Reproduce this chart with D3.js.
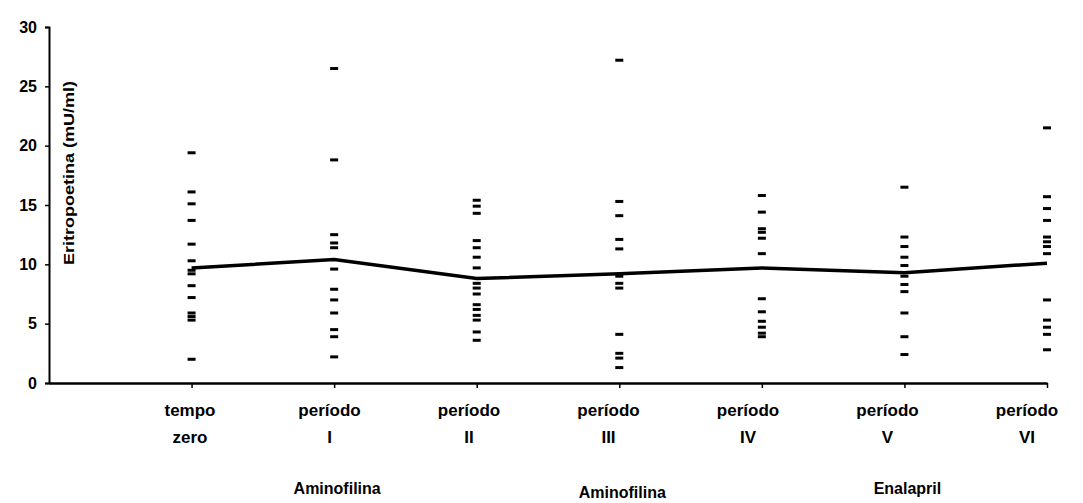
<!DOCTYPE html>
<html><head><meta charset="utf-8">
<script src="https://cdn.jsdelivr.net/npm/d3@7"></script>
<style>
html,body{margin:0;padding:0;background:#fff;}
svg{display:block;}
text{font-family:"Liberation Sans",Arial,sans-serif;font-weight:bold;fill:#000;}
</style></head>
<body><svg id="c" width="1083" height="503"></svg>
<script>
const categories = [["tempo","zero"],["período","I"],["período","II"],["período","III"],["período","IV"],["período","V"],["período","VI"]];
const groupLabels = [{idx:1,text:"Aminofilina",dy:0},{idx:3,text:"Aminofilina",dy:4},{idx:5,text:"Enalapril",dy:0}];
const yTicks = [0,5,10,15,20,25,30];
const yTickLabels = ["0","5","10","15","20","25","30"];
const tempoZero = [19.4,16.1,15.1,13.7,11.7,10.3,9.5,9.2,8.2,7.2,5.9,5.6,5.3,2.0];
const periodoI  = [26.5,18.8,12.5,11.8,11.4,9.6,7.9,7.0,5.9,4.5,3.9,2.2];
const periodoII = [15.4,14.9,14.3,12.0,11.4,10.6,9.7,8.4,8.0,7.5,6.6,6.2,5.7,5.3,4.3,3.6];
const periodoIII= [27.2,15.3,14.1,12.1,11.3,9.0,8.4,8.0,4.1,2.5,2.1,1.3];
const periodoIV = [15.8,14.4,13.0,12.7,12.2,10.9,7.1,6.0,5.2,4.7,4.2,3.9];
const periodoV  = [16.5,12.3,11.5,10.6,9.9,9.0,8.3,7.7,5.9,3.9,2.4];
const periodoVI = [21.5,15.7,14.7,13.7,12.3,11.9,11.5,10.9,7.0,5.3,4.7,4.1,2.8];
const means = [9.7,10.4,8.8,9.2,9.7,9.3,10.1];
const series = [tempoZero,periodoI,periodoII,periodoIII,periodoIV,periodoV,periodoVI];

const svg = d3.select("#c");
const x = d3.scaleLinear().domain([-1,6]).range([49,1047]);
const xLab = d3.scaleLinear().domain([0,6]).range([190,1027]);
const y = d3.scaleLinear().domain([0,30]).range([383,27]);

// y axis
const yAxis = d3.axisLeft(y).tickValues(yTicks).tickFormat((d,i)=>yTickLabels[i]).tickSize(4).tickPadding(8);
const gy = svg.append("g").attr("transform",`translate(${x(-1)},0)`).call(yAxis);
gy.select(".domain").attr("stroke","#000").attr("stroke-width",2);
gy.selectAll(".tick line").attr("stroke","#000").attr("stroke-width",1.5);
gy.selectAll(".tick text").style("font-size","16px").style("font-weight","bold").attr("font-family","Liberation Sans, Arial, sans-serif").attr("fill","#000");

// x axis
const xAxis = d3.axisBottom(x).tickValues(d3.range(0,7)).tickFormat("").tickSize(5).tickSizeOuter(0);
const gx = svg.append("g").attr("transform",`translate(0,${y(0)})`).call(xAxis);
gx.select(".domain").attr("stroke","#000").attr("stroke-width",2.5);
gx.selectAll(".tick line").attr("stroke","#000").attr("stroke-width",1.5);

// y label
svg.append("text").attr("transform",`translate(74,${y(17.7)}) rotate(-90)`)
  .attr("text-anchor","middle").style("font-size","14px")
  .attr("textLength",184).attr("lengthAdjust","spacingAndGlyphs")
  .text("Eritropoetina (mU/ml)");

// category labels
const cl = svg.append("g");
categories.forEach((c,i)=>{
  cl.append("text").attr("x",xLab(i)).attr("y",416).attr("text-anchor","middle").style("font-size","17px").text(c[0]);
  cl.append("text").attr("x",xLab(i)).attr("y",443).attr("text-anchor","middle").style("font-size","17px").text(c[1]);
});
groupLabels.forEach(g=>{
  svg.append("text").attr("x",x(g.idx)+3).attr("y",494+g.dy).attr("text-anchor","middle").style("font-size","16px").text(g.text);
});

// dots
series.forEach((s,i)=>{
  svg.append("g").selectAll("rect").data(s).join("rect")
    .attr("x",x(i)-4).attr("y",d=>y(d)-1.5).attr("width",8).attr("height",3).attr("fill","#000");
});

// mean line
svg.append("path").datum(means)
  .attr("d",d3.line().x((d,i)=>x(i)).y(d=>y(d)))
  .attr("fill","none").attr("stroke","#000").attr("stroke-width",3.5);
</script></body></html>
